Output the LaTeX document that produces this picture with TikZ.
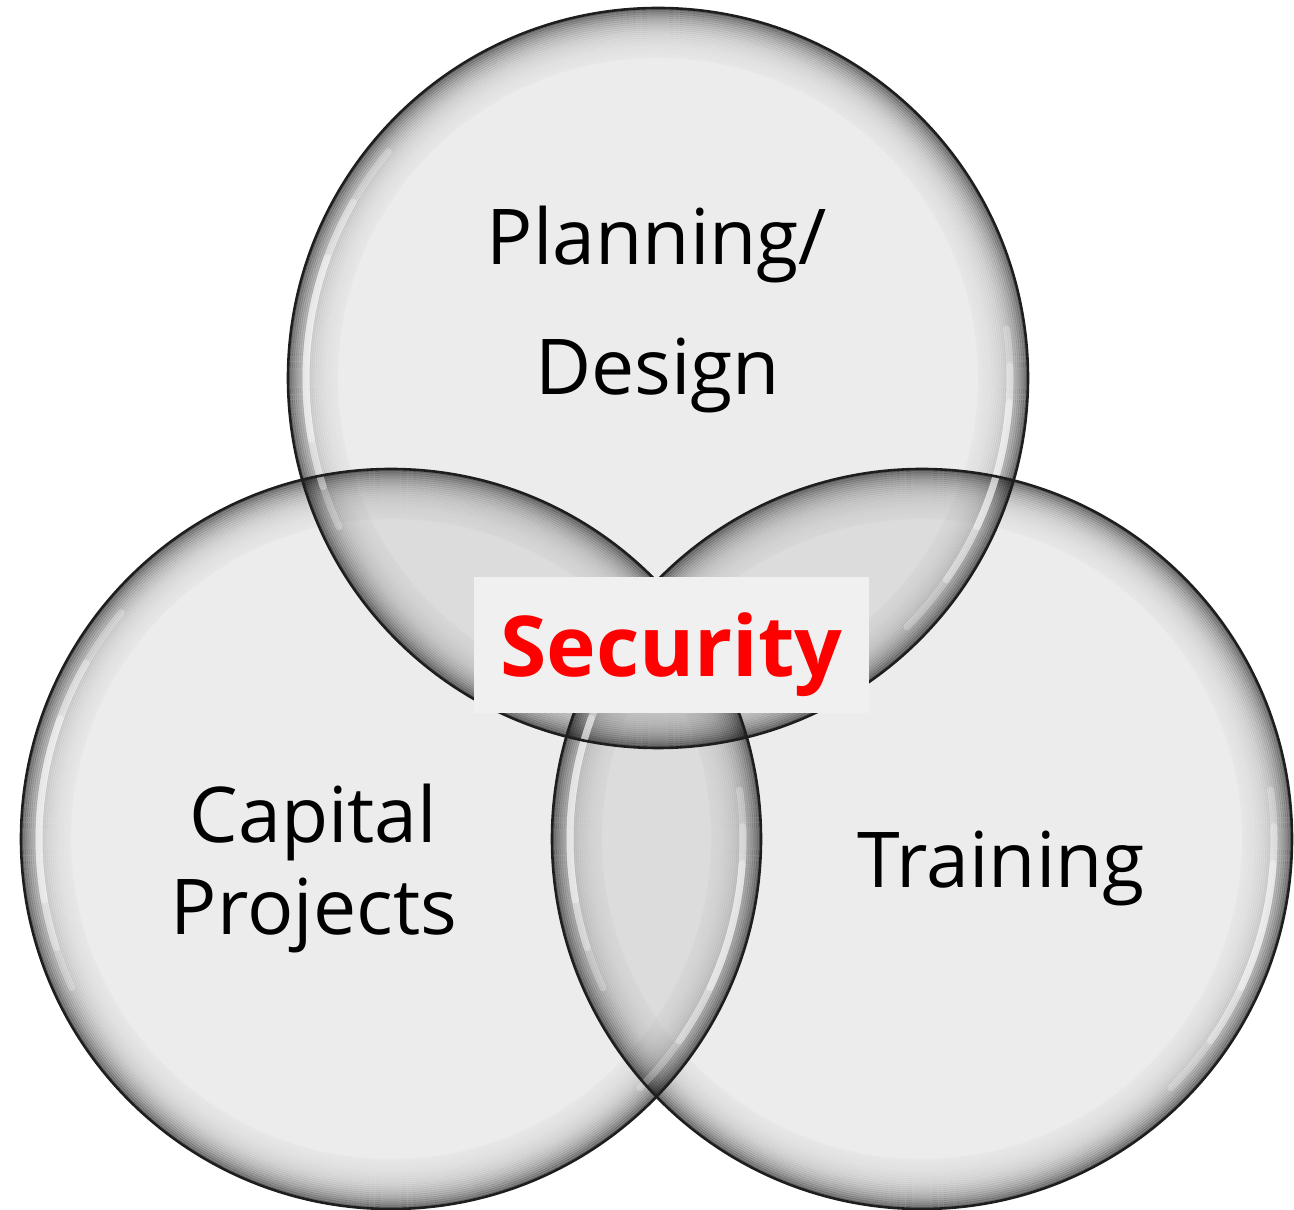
\documentclass[tikz,border=0pt]{standalone}
\usepackage{fontspec}
\setmainfont{Open Sans}
\definecolor{vennfill}{RGB}{135,135,135}
\definecolor{boxfill}{RGB}{240,240,240}
\definecolor{edgecol}{RGB}{30,30,30}
\newcommand\vennshadow[1]{%
  \begin{scope}
    \clip (#1.center) circle (370);
    \foreach \i in {0,...,24} {
      \pgfmathsetmacro\op{0.55*exp(-(2*\i+1)/15)}
      \draw[line width=2.2pt, black, draw opacity=\op] (#1.center) circle ({369-2*\i});
    }
  \end{scope}}
\newcommand\vennhigh[1]{%
  \foreach \a/\b/\o in {140/205/0.25,150/198/0.3,160/190/0.35,-45/8/0.25,-35/2/0.3,-25/-4/0.35} {
    \draw[white, line width=7pt, draw opacity=\o, line cap=round] ([shift={(\a:352)}]#1.center) arc (\a:\b:352);
  }}
\begin{document}
\begin{tikzpicture}[x=1pt,y=1pt,
  venn/.style={circle, minimum size=740pt, inner sep=0pt, fill=vennfill, fill opacity=0.16, draw=none},
  outline/.style={draw=edgecol, line width=2.6pt},
  lbl/.style={font=\fontsize{77}{92}\selectfont, text=black, anchor=base, inner sep=0pt}]
\useasboundingbox (0,0) rectangle (1294,1210);
\node[venn] (top) at (658,832) {};
\node[venn] (left) at (391,371) {};
\node[venn] (right) at (922,371) {};
\vennshadow{top}
\vennshadow{left}
\vennshadow{right}
\vennhigh{top}
\vennhigh{left}
\vennhigh{right}
\draw[outline] (top.center) circle (370);
\draw[outline] (left.center) circle (370);
\draw[outline] (right.center) circle (370);
\node[lbl] (plan) at (657,945) {Planning/};
\node[lbl] (design) at (657.5,815) {Design};
\node[lbl] (cap) at (313.5,367) {Capital};
\node[lbl] (proj) at (314,275) {Projects};
\node[lbl] (train) at (1001.5,322) {Training};
\node[fill=boxfill, inner sep=0pt, text width=395pt, align=center, text height=100pt, text depth=36pt,
      anchor=base, font=\fontsize{84}{96}\selectfont\bfseries, text=red] (sec) at (671.5,533) {Security};
\end{tikzpicture}
\end{document}
